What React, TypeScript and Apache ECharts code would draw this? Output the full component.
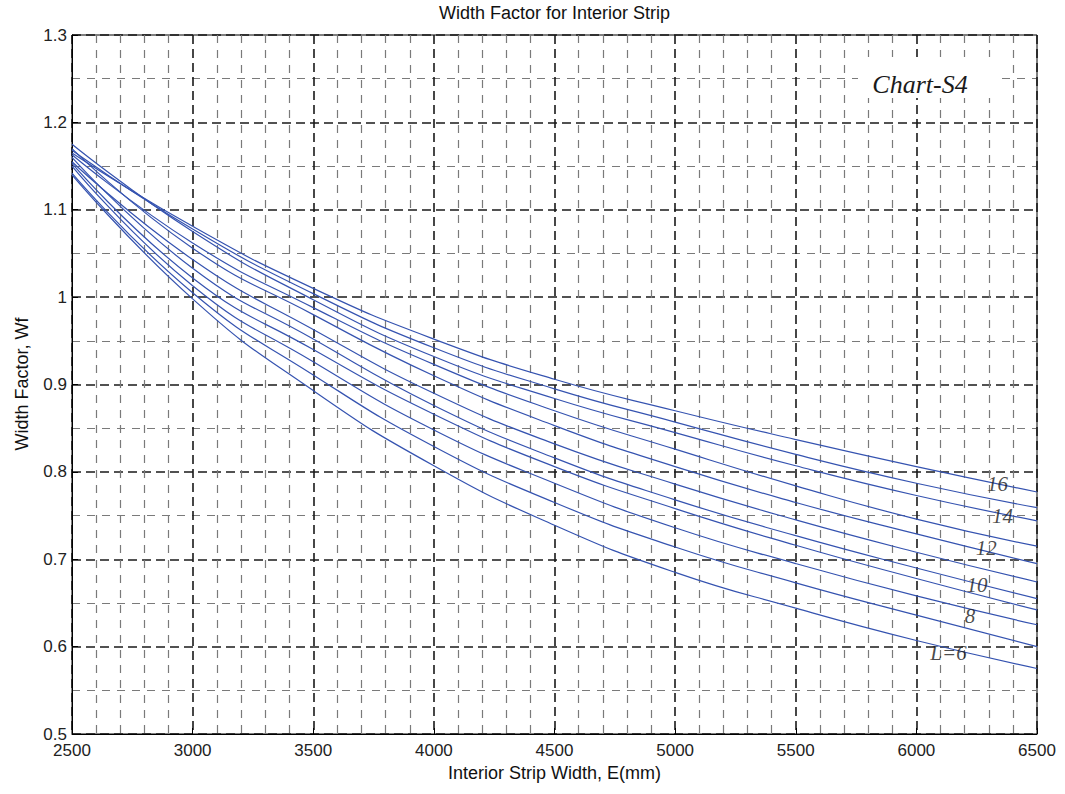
import React, { useEffect, useRef } from "react";
import * as echarts from "echarts";

// Interior strip width E (mm) at which the curves were read
const xValues = [2500, 3000, 3500, 4000, 4500, 5000, 5500, 6000, 6500];

// Width factor Wf read for each span L
const wfL16 = [1.165, 1.081, 1.010, 0.952, 0.906, 0.870, 0.837, 0.806, 0.777];
const wfL15 = [1.168, 1.078, 1.004, 0.942, 0.895, 0.857, 0.820, 0.787, 0.759];
const wfL14 = [1.175, 1.075, 0.997, 0.932, 0.884, 0.845, 0.807, 0.773, 0.744];
const wfL13 = [1.163, 1.062, 0.988, 0.923, 0.870, 0.826, 0.784, 0.746, 0.715];
const wfL12 = [1.170, 1.056, 0.980, 0.910, 0.853, 0.806, 0.765, 0.729, 0.695];
const wfL11 = [1.155, 1.043, 0.963, 0.890, 0.832, 0.786, 0.745, 0.708, 0.674];
const wfL10 = [1.160, 1.033, 0.952, 0.876, 0.816, 0.768, 0.727, 0.690, 0.655];
const wfL9 = [1.153, 1.022, 0.940, 0.866, 0.806, 0.758, 0.716, 0.678, 0.642];
const wfL8 = [1.150, 1.013, 0.926, 0.848, 0.787, 0.736, 0.695, 0.658, 0.625];
const wfL7 = [1.142, 1.005, 0.911, 0.829, 0.765, 0.714, 0.673, 0.636, 0.600];
const wfL6 = [1.140, 0.998, 0.893, 0.807, 0.739, 0.685, 0.644, 0.607, 0.575];

const spanNames = ["L=16", "L=15", "L=14", "L=13", "L=12", "L=11", "L=10", "L=9", "L=8", "L=7", "L=6"];
const spanSeries = [wfL16, wfL15, wfL14, wfL13, wfL12, wfL11, wfL10, wfL9, wfL8, wfL7, wfL6];

// In-plot curve labels (data coordinates)
const labelText = ["16", "14", "12", "10", "8", "L=6"];
const labelX = [6336, 6357, 6290, 6251, 6222, 6133];
const labelY = [0.7856, 0.749, 0.7125, 0.670, 0.6353, 0.5926];

const titleText = "Width Factor for Interior Strip";
const xName = "Interior Strip Width, E(mm)";
const yName = "Width Factor, Wf";
const chartTag = "Chart-S4";

const SANS = "'Liberation Sans', Arial, Helvetica, sans-serif";
const SERIF = "'Liberation Serif', 'Times New Roman', serif";
const LINE_COLOR = "#3553b0";

export default function App() {
  const ref = useRef<HTMLDivElement>(null);

  useEffect(() => {
    if (!ref.current) return;
    const chart = echarts.init(ref.current, null, { renderer: "svg" });

    const lineSeries = spanSeries.map((arr, k) => ({
      name: spanNames[k],
      type: "line",
      data: xValues.map((x, i) => [x, arr[i]]),
      showSymbol: false,
      smooth: 0.5,
      lineStyle: { color: LINE_COLOR, width: 1.2 },
      itemStyle: { color: LINE_COLOR },
      z: 3,
      silent: true,
    }));

    const labelSeries = {
      type: "scatter",
      data: labelX.map((x, i) => [x, labelY[i]]),
      symbolSize: 1,
      itemStyle: { color: "rgba(0,0,0,0)" },
      silent: true,
      z: 6,
      label: {
        show: true,
        position: "inside",
        formatter: (p: any) => labelText[p.dataIndex],
        fontFamily: SERIF,
        fontStyle: "italic",
        fontSize: 21,
        color: "#1a1a1a",
      },
    };

    const option: any = {
      animation: false,
      backgroundColor: "#ffffff",
      grid: {
        left: 72,
        right: 28,
        top: 35,
        bottom: 60,
        show: true,
        borderColor: "#000",
        borderWidth: 1,
        backgroundColor: "transparent",
      },
      xAxis: {
        type: "value",
        min: 2500,
        max: 6500,
        interval: 500,
        axisLine: { show: true, lineStyle: { color: "#000", width: 1 } },
        axisTick: { show: true, inside: true, length: 6, lineStyle: { color: "#000" } },
        minorTick: { show: false, splitNumber: 5 },
        axisLabel: {
          show: true,
          margin: 8,
          fontFamily: SANS,
          fontSize: 17,
          color: "#222",
          showMinLabel: true,
          showMaxLabel: true,
          formatter: (v: number) => String(Math.round(v)),
        },
        splitLine: { show: true, lineStyle: { color: "#1a1a1a", width: 1.6, type: [9, 5] } },
        minorSplitLine: { show: true, lineStyle: { color: "#7a7a7a", width: 1.2, type: [8, 7] } },
      },
      yAxis: {
        type: "value",
        min: 0.5,
        max: 1.3,
        interval: 0.1,
        axisLine: { show: true, lineStyle: { color: "#000", width: 1 } },
        axisTick: { show: true, inside: true, length: 6, lineStyle: { color: "#000" } },
        minorTick: { show: false, splitNumber: 2 },
        axisLabel: {
          show: true,
          margin: 5,
          fontFamily: SANS,
          fontSize: 17,
          color: "#222",
          padding: [0, 0, 6, 0],
          showMinLabel: true,
          showMaxLabel: true,
          formatter: (v: number) => String(Math.round(v * 10) / 10),
        },
        splitLine: { show: true, lineStyle: { color: "#1a1a1a", width: 1.6, type: [9, 5] } },
        minorSplitLine: { show: true, lineStyle: { color: "#7a7a7a", width: 1.2, type: [8, 7] } },
      },
      graphic: [
        {
          type: "text",
          x: 554.5,
          y: 13,
          z: 100,
          style: {
            text: titleText,
            fontFamily: SANS,
            fontSize: 18,
            fill: "#111",
            align: "center",
            verticalAlign: "middle",
            textAlign: "center",
            textVerticalAlign: "middle",
          },
        },
        {
          type: "text",
          x: 554.5,
          y: 773,
          z: 100,
          style: {
            text: xName,
            fontFamily: SANS,
            fontSize: 18,
            fill: "#111",
            align: "center",
            verticalAlign: "middle",
            textAlign: "center",
            textVerticalAlign: "middle",
          },
        },
        {
          type: "text",
          x: 22,
          y: 384,
          rotation: Math.PI / 2,
          z: 100,
          style: {
            text: yName,
            fontFamily: SANS,
            fontSize: 18,
            fill: "#111",
            align: "center",
            verticalAlign: "middle",
            textAlign: "center",
            textVerticalAlign: "middle",
          },
        },
        {
          type: "rect",
          z: 100,
          shape: { x: 858, y: 57, width: 140, height: 41 },
          style: { fill: "#ffffff" },
        },
        {
          type: "text",
          x: 920,
          y: 84,
          z: 101,
          style: {
            text: chartTag,
            fontFamily: SERIF,
            fontStyle: "italic",
            fontSize: 26,
            fill: "#1a1a1a",
            align: "center",
            verticalAlign: "middle",
            textAlign: "center",
            textVerticalAlign: "middle",
          },
        },
      ],
      series: [...lineSeries, labelSeries],
    };

    chart.setOption(option);
    return () => chart.dispose();
  }, []);

  return (
    <div
      ref={ref}
      style={{ position: "fixed", left: 0, top: 0, width: 1065, height: 794, background: "#fff" }}
    />
  );
}
